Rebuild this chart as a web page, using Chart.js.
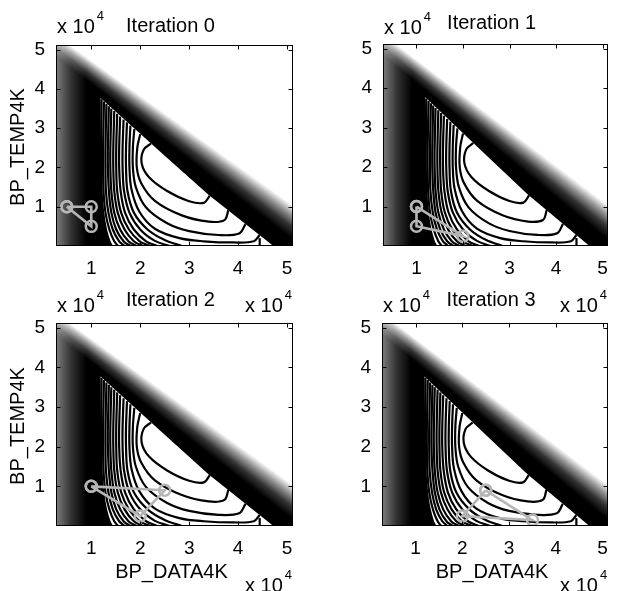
<!DOCTYPE html>
<html>
<head>
<meta charset="utf-8">
<script src="https://cdn.jsdelivr.net/npm/chart.js@4.4.1/dist/chart.umd.min.js"></script>
<style>
html, body { margin: 0; padding: 0; background: #fff; }
#wrap { position: relative; width: 619px; height: 591px; overflow: hidden; }
#wrap canvas { position: absolute; left: 0; top: 0; }
</style>
</head>
<body>
<div id="wrap">
  <canvas id="c0" width="619" height="591"></canvas>
  <canvas id="c1" width="619" height="591"></canvas>
  <canvas id="c2" width="619" height="591"></canvas>
  <canvas id="c3" width="619" height="591"></canvas>
</div>
<script>
// axis setup (values are in units of 10^4)
const tickValues = [1, 2, 3, 4, 5];
const xRange = [0.28, 5.12];
const yRange = [0, 5.12];
const titles = ['Iteration 0', 'Iteration 1', 'Iteration 2', 'Iteration 3'];
const xAxisLabel = 'BP_DATA4K';
const yAxisLabel = 'BP_TEMP4K';

// simplex vertices for each iteration
const simplex0 = [[0.5, 1], [1, 1], [1, 0.5]];
const simplex1 = [[1, 1], [1, 0.5], [2, 0.25]];
const simplex2 = [[1, 1], [2.5, 0.9], [2, 0.25]];
const simplex3 = [[2.5, 0.9], [2, 0.25], [3.5, 0.15]];

// shaded background regions
const plotRect = [[0.28, 0], [0.28, 5.12], [5.12, 5.12], [5.12, 0]];
const darkRegion = [[0.28, 0], [0.28, 5.12], [0.7, 5.12], [5.12, 1.2], [5.12, 0]];
const bandWhiteEdge = [[0.56, 5.12], [5.12, 1.04]];
const bandBlackEdge = [[1.17, 3.97], [5.12, 0.15]];
const leftShade = [[0.28, 0], [0.28, 5.12], [0.9, 5.12], [0.9, 0]];
const feasible = [[1.19, 3.77], [2.5, 2.3], [3.4, 1.3], [4.72, 0], [1.42, 0], [1.3, 0.42], [1.21, 1.4], [1.19, 2.5]];

// contour lines
const contours = [
  [[2.22, 2.61], [2.07, 2.45], [2.03, 2.1], [2.18, 1.75], [2.55, 1.4], [3.0, 1.14], [3.3, 1.1], [3.42, 1.28]],
  [[2.0, 2.85], [1.94, 2.5], [1.93, 2.0], [2.02, 1.6], [2.3, 1.15], [2.85, 0.78], [3.4, 0.62], [3.72, 0.66], [3.8, 0.91]],
  [[1.88, 2.98], [1.85, 2.5], [1.85, 2.0], [1.91, 1.5], [2.12, 0.98], [2.55, 0.58], [3.0, 0.38], [3.6, 0.28], [4.02, 0.32], [4.15, 0.56]],
  [[1.8, 3.07], [1.78, 2.5], [1.78, 2.0], [1.82, 1.45], [1.98, 0.88], [2.3, 0.44], [2.8, 0.2], [3.3, 0.12], [3.9, 0.09], [4.32, 0.12], [4.44, 0.28]],
  [[4.44, 0.2], [4.44, 0]],
  [[1.73, 3.15], [1.71, 2.5], [1.71, 2.0], [1.74, 1.4], [1.87, 0.85], [2.15, 0.42], [2.5, 0.15], [2.85, 0]],
  [[1.66, 3.22], [1.64, 2.5], [1.64, 2.0], [1.67, 1.4], [1.78, 0.85], [2.0, 0.42], [2.3, 0.13], [2.6, 0]],
  [[1.59, 3.3], [1.57, 2.5], [1.57, 2.0], [1.6, 1.4], [1.69, 0.85], [1.87, 0.42], [2.12, 0.12], [2.35, 0]],
  [[1.53, 3.37], [1.51, 2.5], [1.51, 2.0], [1.53, 1.4], [1.61, 0.85], [1.77, 0.42], [1.99, 0.12], [2.2, 0]],
  [[1.47, 3.44], [1.45, 2.5], [1.45, 2.0], [1.47, 1.4], [1.54, 0.85], [1.68, 0.42], [1.87, 0.12], [2.05, 0]],
  [[1.41, 3.5], [1.39, 2.5], [1.39, 2.0], [1.41, 1.4], [1.47, 0.85], [1.59, 0.42], [1.76, 0.12], [1.92, 0]],
  [[1.36, 3.56], [1.34, 2.5], [1.34, 2.0], [1.36, 1.4], [1.41, 0.85], [1.51, 0.42], [1.66, 0.12], [1.8, 0]],
  [[1.31, 3.62], [1.29, 2.5], [1.29, 2.0], [1.3, 1.4], [1.35, 0.85], [1.44, 0.42], [1.57, 0.12], [1.68, 0]],
  [[1.26, 3.68], [1.24, 2.5], [1.24, 2.0], [1.25, 1.4], [1.29, 0.85], [1.37, 0.42], [1.47, 0.12], [1.55, 0]],
  [[1.21, 3.74], [1.2, 2.5], [1.2, 2.0], [1.21, 1.4], [1.24, 0.85], [1.3, 0.42], [1.37, 0.12], [1.42, 0]]
];

const FONT = '"Liberation Sans", Arial, Helvetica, sans-serif';
Chart.defaults.font.family = FONT;
Chart.defaults.color = '#000';

// where each axes box sits on the page: left, top, right, bottom
const panels = [
  { id: 'c0', title: titles[0], box: [56, 45, 293, 246], simplex: simplex0, titleY: 32, expY: 33, xLabel: false, yLabel: true },
  { id: 'c1', title: titles[1], box: [383, 44, 618, 246], simplex: simplex1, titleY: 29, expY: 34, xLabel: false, yLabel: false },
  { id: 'c2', title: titles[2], box: [56, 323, 293, 526], simplex: simplex2, titleY: 305.5, expY: 311.5, xLabel: true, yLabel: true },
  { id: 'c3', title: titles[3], box: [382, 323, 618, 526], simplex: simplex3, titleY: 305.5, expY: 311.5, xLabel: true, yLabel: false }
];

const Y_AXIS_W = 50, X_AXIS_H = 40, TICK_LEN = 4;
const CLEAR = 'rgba(255,255,255,0)';

function pts(arr) {
  return arr.map(p => ({ x: p[0], y: p[1] }));
}

function ok() {
  for (let i = 0; i < arguments.length; i++) if (!isFinite(arguments[i])) return false;
  return true;
}

function toPx(chart, p) {
  return [chart.scales.x.getPixelForValue(p[0]), chart.scales.y.getPixelForValue(p[1])];
}

// white fade on the upper-right edge of the dark band; the fade widens
// towards the lower right, so use a conic gradient around the point where
// the white edge and black edge lines meet
function bandFill(c) {
  const chart = c.chart;
  if (!chart.scales.x || !chart.scales.y) return CLEAR;
  const w1 = toPx(chart, bandWhiteEdge[0]), w2 = toPx(chart, bandWhiteEdge[1]);
  const b1 = toPx(chart, bandBlackEdge[0]), b2 = toPx(chart, bandBlackEdge[1]);
  if (!ok(w1[0], w1[1], w2[0], w2[1], b1[0], b1[1], b2[0], b2[1])) return CLEAR;
  const d1x = w2[0] - w1[0], d1y = w2[1] - w1[1];
  const d2x = b2[0] - b1[0], d2y = b2[1] - b1[1];
  const den = d1x * d2y - d1y * d2x;
  if (Math.abs(den) < 1e-6) return CLEAR;
  const t = ((b1[0] - w1[0]) * d2y - (b1[1] - w1[1]) * d2x) / den;
  const px = w1[0] + t * d1x, py = w1[1] + t * d1y;
  const aw = Math.atan2(w2[1] - py, w2[0] - px);
  const ab = Math.atan2(b2[1] - py, b2[0] - px);
  let f = (ab - aw) / (2 * Math.PI);
  if (!(f > 0 && f < 0.2)) return CLEAR;
  const g = chart.ctx.createConicGradient(aw, px, py);
  g.addColorStop(0, 'rgba(255,255,255,1)');
  g.addColorStop(f * 0.3, 'rgba(255,255,255,0.6)');
  g.addColorStop(f * 0.65, 'rgba(255,255,255,0.2)');
  g.addColorStop(f, 'rgba(255,255,255,0)');
  g.addColorStop(0.5, 'rgba(255,255,255,0)');
  g.addColorStop(0.5, 'rgba(255,255,255,1)');
  g.addColorStop(1, 'rgba(255,255,255,1)');
  return g;
}

function leftFill(c) {
  const chart = c.chart, xs = chart.scales.x;
  if (!xs) return CLEAR;
  const a = xs.getPixelForValue(leftShade[0][0]), b = xs.getPixelForValue(leftShade[2][0]);
  if (!ok(a, b) || a === b) return CLEAR;
  const g = chart.ctx.createLinearGradient(a, 0, b, 0);
  g.addColorStop(0, 'rgba(125,125,125,1)');
  g.addColorStop(0.5, 'rgba(125,125,125,0.4)');
  g.addColorStop(1, 'rgba(125,125,125,0)');
  return g;
}

function drawExp(ctx, xLeft, base) {
  ctx.font = '20px ' + FONT;
  ctx.textAlign = 'left';
  ctx.fillText('x 10', xLeft, base);
  const w = ctx.measureText('x 10').width;
  ctx.font = '13px ' + FONT;
  ctx.fillText('4', xLeft + w + 2, base - 13);
}

function expWidth(ctx) {
  ctx.font = '20px ' + FONT;
  const w = ctx.measureText('x 10').width;
  ctx.font = '13px ' + FONT;
  return w + 2 + ctx.measureText('4').width;
}

function decor(p) {
  return {
    id: 'decor',
    afterDraw(chart) {
      const ctx = chart.ctx, a = chart.chartArea, xs = chart.scales.x, ys = chart.scales.y;
      ctx.save();
      // axes box with inward ticks
      ctx.strokeStyle = '#000';
      ctx.lineWidth = 1;
      const L = Math.round(a.left) + 0.5, T = Math.round(a.top) + 0.5;
      const R = Math.round(a.right) - 0.5, B = Math.round(a.bottom) - 0.5;
      ctx.strokeRect(L, T, R - L, B - T);
      ctx.beginPath();
      tickValues.forEach(v => {
        const px = Math.round(xs.getPixelForValue(v)) + 0.5;
        ctx.moveTo(px, B); ctx.lineTo(px, B - TICK_LEN);
        ctx.moveTo(px, T); ctx.lineTo(px, T + TICK_LEN);
        const py = Math.round(ys.getPixelForValue(v)) + 0.5;
        ctx.moveTo(L, py); ctx.lineTo(L + TICK_LEN, py);
        ctx.moveTo(R, py); ctx.lineTo(R - TICK_LEN, py);
      });
      ctx.stroke();

      ctx.fillStyle = '#000';
      ctx.textBaseline = 'alphabetic';
      // title
      ctx.font = '20px ' + FONT;
      ctx.textAlign = 'center';
      ctx.fillText(p.title, (a.left + a.right) / 2 - 4, p.titleY);
      // exponent of y axis (top left) and x axis (below right)
      drawExp(ctx, a.left + 1, p.expY);
      drawExp(ctx, a.right - 1 - expWidth(ctx), a.bottom + 65.7);
      // axis labels
      if (p.xLabel) {
        ctx.font = '20px ' + FONT;
        ctx.textAlign = 'center';
        ctx.fillText(xAxisLabel, (a.left + a.right) / 2 - 3, 578);
      }
      if (p.yLabel) {
        ctx.save();
        ctx.translate(24, (a.top + a.bottom) / 2 + 1.5);
        ctx.rotate(-Math.PI / 2);
        ctx.font = '20px ' + FONT;
        ctx.textAlign = 'center';
        ctx.fillText(yAxisLabel, 0, 0);
        ctx.restore();
      }
      ctx.restore();
    }
  };
}

function makePanel(p) {
  const [left, top, right, bottom] = p.box;
  const datasets = [];
  datasets.push({ data: pts(darkRegion), fill: 'shape', backgroundColor: '#000', borderWidth: 0, pointRadius: 0, order: 50 });
  datasets.push({ data: pts(leftShade), fill: 'shape', backgroundColor: leftFill, borderWidth: 0, pointRadius: 0, order: 49 });
  datasets.push({ data: pts(plotRect), fill: 'shape', backgroundColor: bandFill, borderWidth: 0, pointRadius: 0, order: 48 });
  datasets.push({ data: pts(feasible), fill: 'shape', backgroundColor: '#fff', borderWidth: 0, pointRadius: 0, order: 47 });
  contours.forEach(c => {
    datasets.push({ data: pts(c), fill: false, borderColor: '#000', borderWidth: 2.2, tension: 0.35, pointRadius: 0, order: 10 });
  });
  const s = p.simplex;
  datasets.push({
    data: pts([s[0], s[1], s[2], s[0]]),
    fill: false, borderColor: '#b6b6b6', borderWidth: 2.6, tension: 0,
    pointRadius: 5.5, pointBorderWidth: 2.5, pointBorderColor: '#b6b6b6', pointBackgroundColor: 'rgba(0,0,0,0)',
    order: 1
  });

  const tickFont = { size: 19, family: FONT };
  const chart = new Chart(p.id, {
    type: 'line',
    data: { datasets: datasets },
    options: {
      responsive: false,
      animation: false,
      events: [],
      layout: { padding: { left: left - Y_AXIS_W, top: top, right: 619 - right, bottom: 591 - bottom - X_AXIS_H } },
      plugins: { legend: { display: false }, tooltip: { enabled: false }, title: { display: false } },
      scales: {
        x: {
          type: 'linear', min: xRange[0], max: xRange[1],
          afterBuildTicks: sc => { sc.ticks = tickValues.map(v => ({ value: v })); },
          afterFit: sc => { sc.height = X_AXIS_H; },
          ticks: { padding: 11, color: '#000', font: tickFont, maxRotation: 0, autoSkip: false },
          grid: { display: false, drawTicks: false },
          border: { display: false }
        },
        y: {
          type: 'linear', min: yRange[0], max: yRange[1],
          afterBuildTicks: sc => { sc.ticks = tickValues.map(v => ({ value: v })); },
          afterFit: sc => { sc.width = Y_AXIS_W; },
          ticks: { padding: 11, color: '#000', font: tickFont, autoSkip: false },
          grid: { display: false, drawTicks: false },
          border: { display: false }
        }
      }
    },
    plugins: [decor(p)]
  });
  // second pass so the gradients see the laid-out scales
  chart.update();
}

panels.forEach(makePanel);
</script>
</body>
</html>
